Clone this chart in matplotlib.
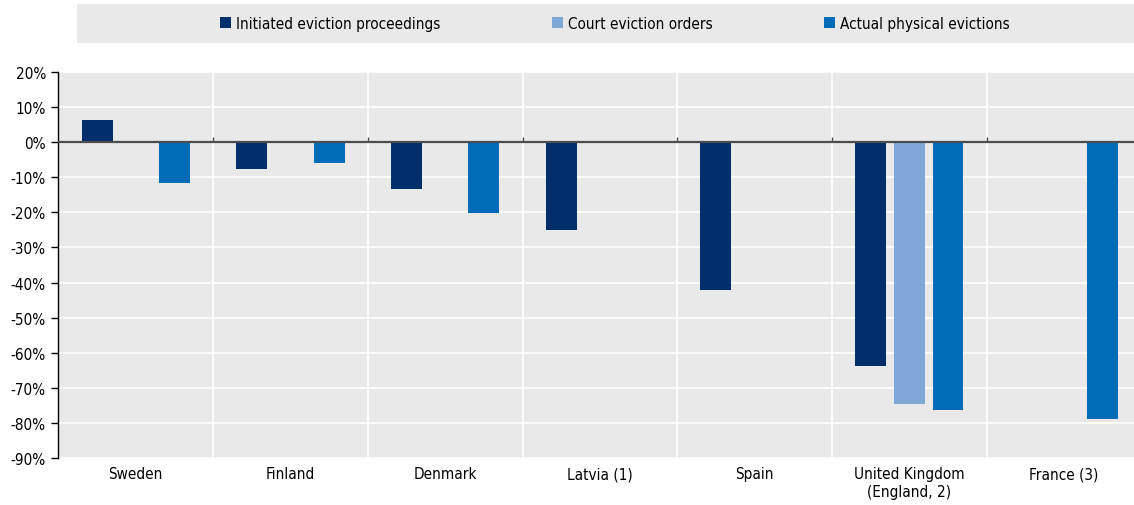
import matplotlib
matplotlib.use("Agg")
import matplotlib.pyplot as plt
import numpy as np
from matplotlib.patches import Patch, Rectangle
from matplotlib.ticker import FuncFormatter

plt.rcParams["font.family"] = ["DejaVu Sans"]
plt.rcParams["font.stretch"] = "condensed"

# Data (change in %, NaN = not available)
countries = ["Sweden", "Finland", "Denmark", "Latvia (1)", "Spain",
             "United Kingdom\n(England, 2)", "France (3)"]
initiated = [6.3, -7.7, -13.2, -25.1, -42.1, -63.9, np.nan]
court_orders = [np.nan, np.nan, np.nan, np.nan, np.nan, -74.6, np.nan]
physical = [-11.7, -6.0, -20.3, np.nan, np.nan, -76.2, -79.0]

series = [
    ("Initiated eviction proceedings", initiated, "#002F6C"),
    ("Court eviction orders", court_orders, "#7FA8D9"),
    ("Actual physical evictions", physical, "#006BB6"),
]

bg = "#E9E9E9"
x = np.arange(len(countries))
width = 0.2
offsets = [-0.25, 0.0, 0.25]

fig = plt.figure(figsize=(11.34, 5.06), dpi=100)
ax = fig.add_axes([0.0515, 0.0929, 0.955, 0.7628])
ax.set_facecolor(bg)

for (name, vals, clr), off in zip(series, offsets):
    ax.bar(x + off, vals, width=width, color=clr, zorder=3)

ax.set_xlim(-0.5, len(countries) - 0.5)
ax.set_ylim(-90, 20)
ax.set_yticks(np.arange(-90, 21, 10))
ax.yaxis.set_major_formatter(FuncFormatter(lambda v, p: "{0:.0f}%".format(v)))
ax.set_xticks(x)
ax.set_xticklabels(countries)
ax.set_xticks(np.arange(0.5, len(countries) - 0.5, 1.0), minor=True)

ax.grid(axis="y", which="major", color="white", linewidth=1.2, zorder=1)
ax.grid(axis="x", which="minor", color="white", linewidth=1.2, zorder=1)
ax.set_axisbelow(True)

for s in ["top", "right", "bottom"]:
    ax.spines[s].set_visible(False)
ax.spines["left"].set_color("black")
ax.spines["left"].set_linewidth(1.0)
ax.tick_params(axis="y", direction="out", length=5, width=1, labelsize=11, pad=4)
ax.tick_params(axis="x", which="both", length=0, labelsize=11, pad=6)

# zero line with small tick marks at group boundaries
ax.axhline(0, color="#4D4D4D", linewidth=1.6, zorder=4)
ax.vlines(np.arange(0.5, len(countries) - 0.5, 1.0), 0, 1.4,
          color="#4D4D4D", linewidth=1.0, zorder=4)

# legend band
fig.patches.append(Rectangle((0.0675, 0.913), 0.94, 0.078, transform=fig.transFigure,
                             facecolor=bg, edgecolor="none", zorder=0))
handles = [Patch(facecolor=clr, edgecolor="none", label=name) for name, _, clr in series]
fig.legend(handles=handles, loc="center", bbox_to_anchor=(0.542, 0.952), ncol=3,
           frameon=False, fontsize=11, handlelength=0.75, handleheight=0.75,
           handletextpad=0.3, columnspacing=7.3)

fig.savefig("out.png", dpi=100)
